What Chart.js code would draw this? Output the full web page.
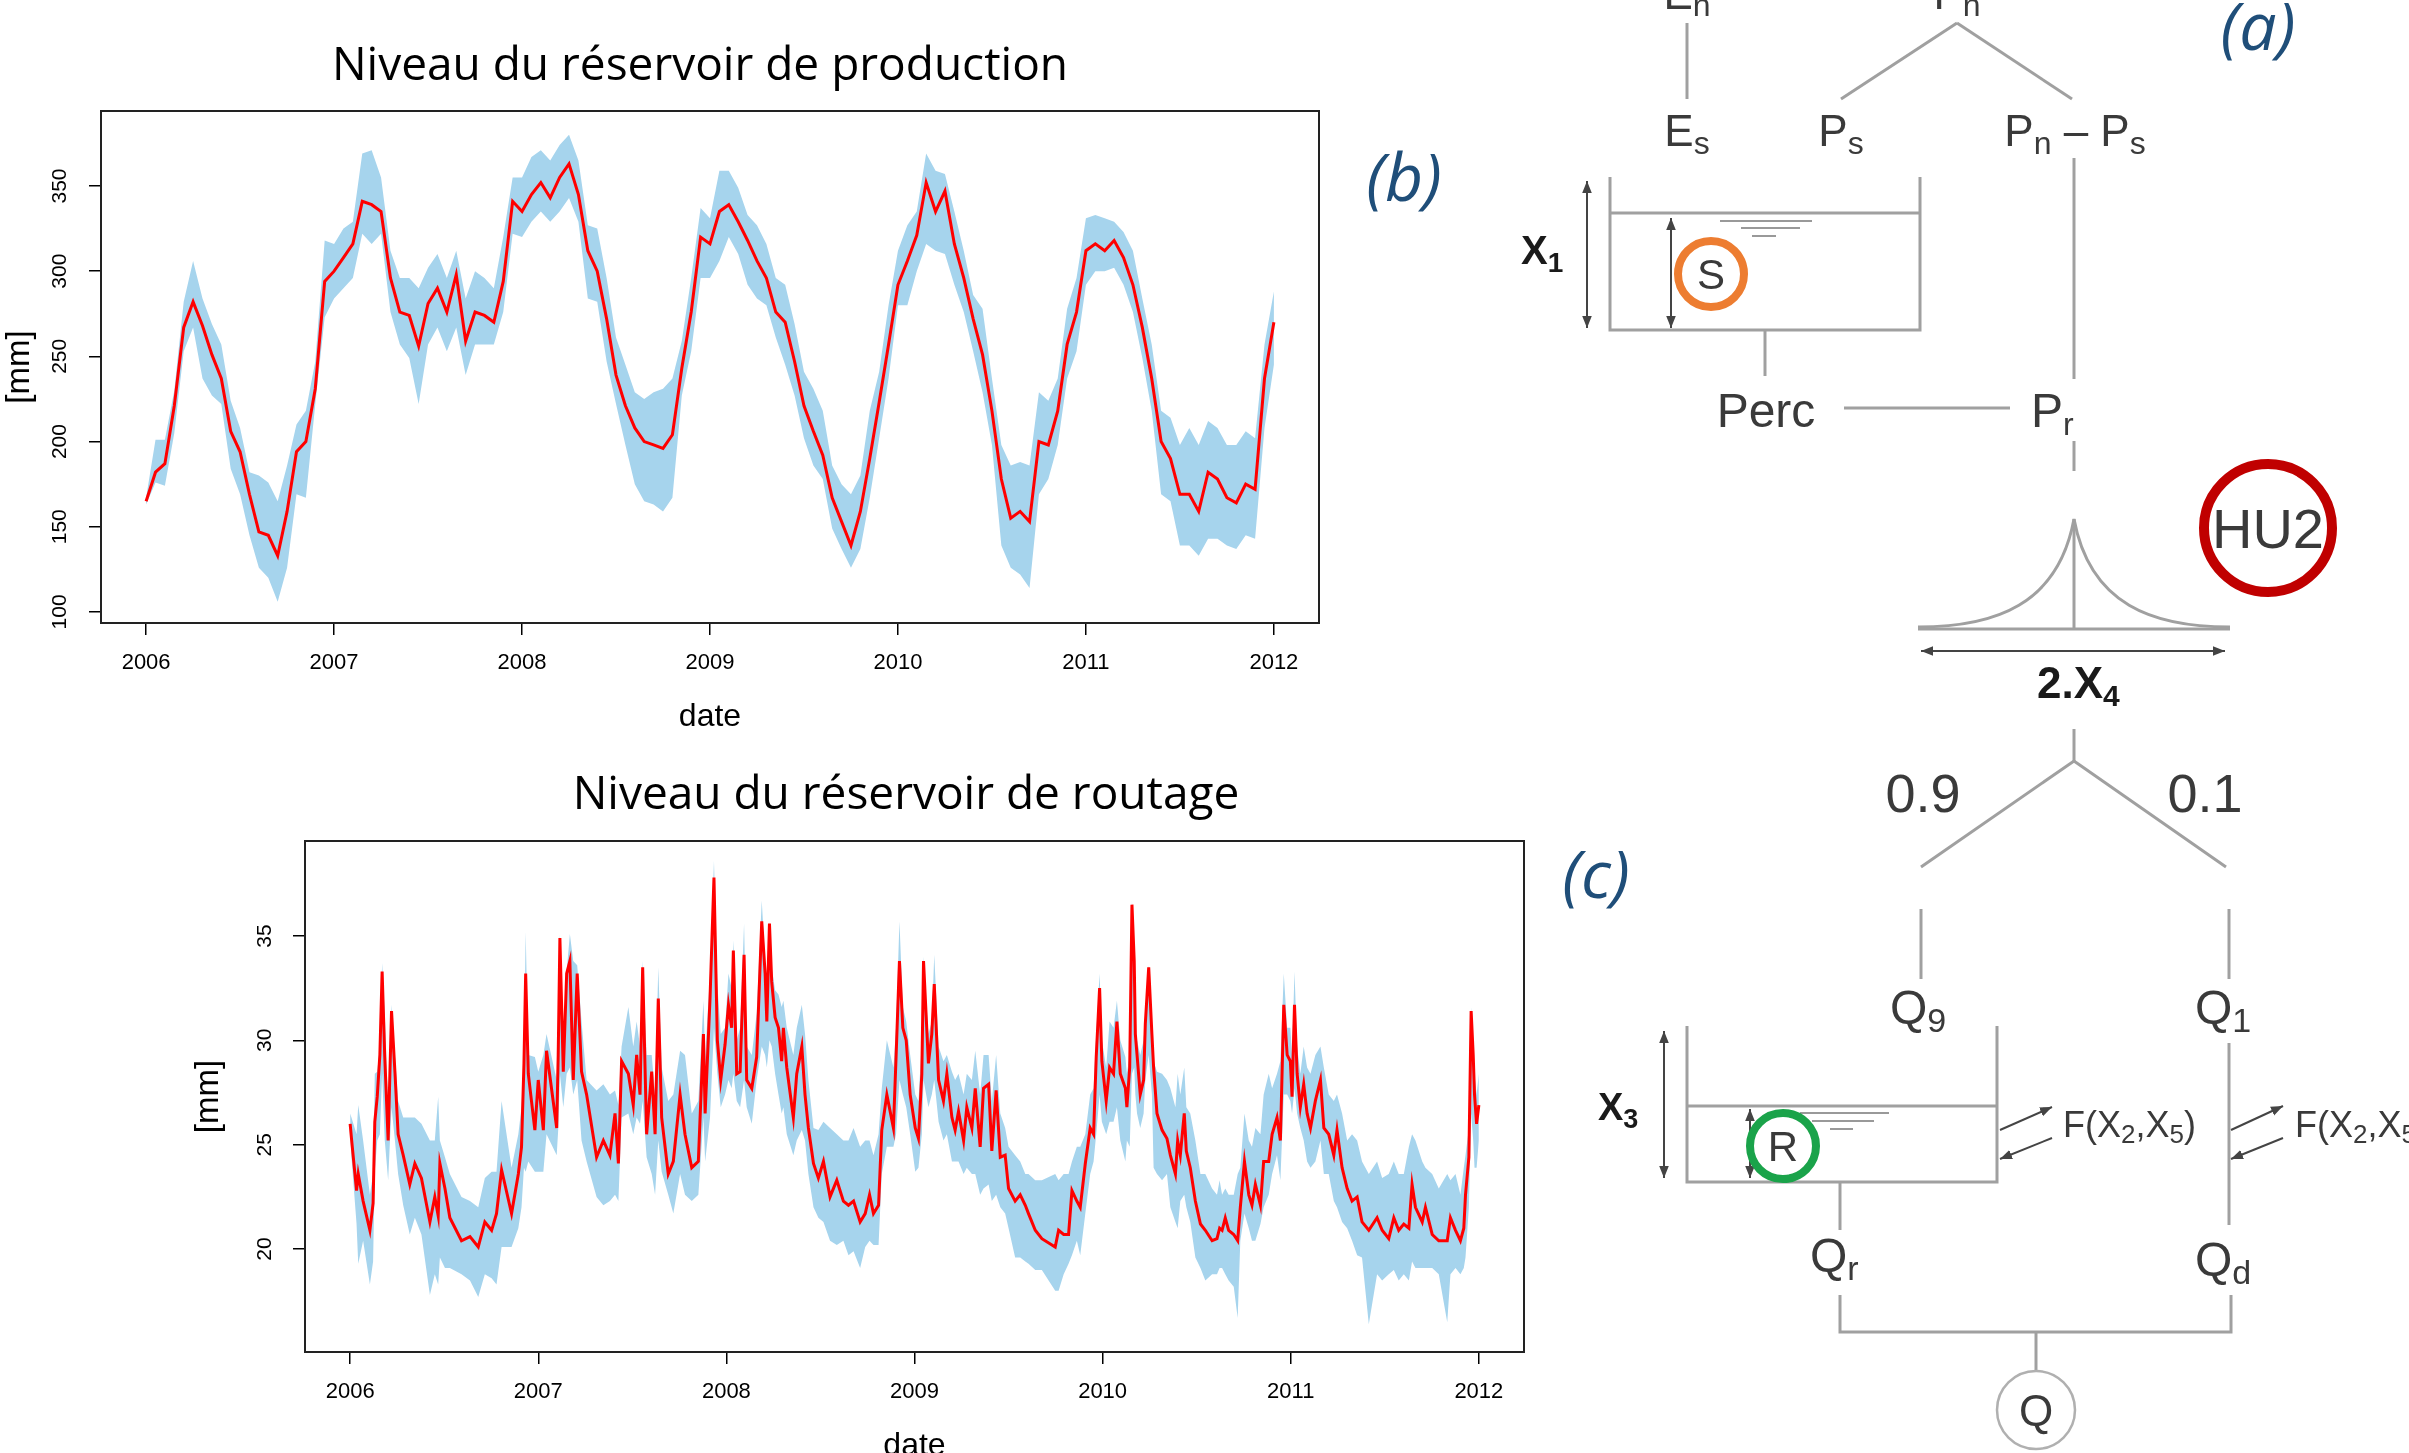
<!DOCTYPE html>
<html>
<head>
<meta charset="utf-8">
<title>GR4J - niveaux des reservoirs</title>
<script src="https://cdn.jsdelivr.net/npm/chart.js@4.4.0/dist/chart.umd.min.js"></script>
<style>
  html, body { margin: 0; padding: 0; background: #fff; width: 2409px; height: 1453px; overflow: hidden; }
  canvas, svg { position: absolute; }
</style>
</head>
<body>
<canvas id="chart_production" width="1400" height="745" style="left:0;top:0"></canvas>
<canvas id="chart_routage" width="1452" height="740" style="left:180px;top:740px"></canvas>

<svg id="schema" width="2409" height="1453" viewBox="0 0 2409 1453" style="left:0;top:0" font-family="Liberation Sans, Arial, sans-serif">
  <defs>
    <marker id="arr" viewBox="0 0 10 10" refX="10" refY="5" markerWidth="6" markerHeight="6" orient="auto-start-reverse">
      <path d="M0,1 L10,5 L0,9 z" fill="#444"></path>
    </marker>
  </defs>
  <g stroke="#a0a0a0" stroke-width="3" fill="none">
    <line x1="1687" y1="23" x2="1687" y2="99"></line>
    <line x1="1957" y1="23" x2="1841" y2="99"></line>
    <line x1="1957" y1="23" x2="2072" y2="99"></line>
    <polyline points="1610,177 1610,330 1920,330 1920,177"></polyline>
    <line x1="1610" y1="213" x2="1920" y2="213"></line>
    <line x1="1765" y1="330" x2="1765" y2="376"></line>
    <line x1="1844" y1="408" x2="2010" y2="408"></line>
    <line x1="2074" y1="158" x2="2074" y2="379"></line>
    <line x1="2074" y1="441" x2="2074" y2="471"></line>
    <line x1="2074" y1="519" x2="2074" y2="628"></line>
    <path d="M1918,627 C1995,627 2058,605 2074,519 C2090,605 2153,627 2230,627"></path>
    <line x1="1918" y1="629" x2="2230" y2="629"></line>
    <line x1="2074" y1="729" x2="2074" y2="761"></line>
    <polyline points="1921,867 2074,761 2226,867"></polyline>
    <line x1="1921" y1="909" x2="1921" y2="979"></line>
    <line x1="2229" y1="909" x2="2229" y2="979"></line>
    <polyline points="1687,1026 1687,1182 1997,1182 1997,1026"></polyline>
    <line x1="1687" y1="1106" x2="1997" y2="1106"></line>
    <line x1="2229" y1="1043" x2="2229" y2="1225"></line>
    <line x1="1840" y1="1183" x2="1840" y2="1230"></line>
    <polyline points="1840,1295 1840,1332 2231,1332 2231,1295"></polyline>
    <line x1="2036" y1="1332" x2="2036" y2="1372"></line>
  </g>
  <g stroke="#999" stroke-width="2">
    <line x1="1720" y1="221" x2="1812" y2="221"></line>
    <line x1="1741" y1="228" x2="1800" y2="228"></line>
    <line x1="1752" y1="236" x2="1776" y2="236"></line>
    <line x1="1800" y1="1113" x2="1889" y2="1113"></line>
    <line x1="1812" y1="1121" x2="1874" y2="1121"></line>
    <line x1="1830" y1="1129" x2="1853" y2="1129"></line>
  </g>
  <g stroke="#444" stroke-width="2" fill="none">
    <line x1="1587" y1="181" x2="1587" y2="328" marker-start="url(#arr)" marker-end="url(#arr)"></line>
    <line x1="1671" y1="218" x2="1671" y2="328" marker-start="url(#arr)" marker-end="url(#arr)"></line>
    <line x1="1921" y1="651" x2="2225" y2="651" marker-start="url(#arr)" marker-end="url(#arr)"></line>
    <line x1="1664" y1="1031" x2="1664" y2="1178" marker-start="url(#arr)" marker-end="url(#arr)"></line>
    <line x1="1750" y1="1109" x2="1750" y2="1178" marker-start="url(#arr)" marker-end="url(#arr)"></line>
    <line x1="2000" y1="1130" x2="2052" y2="1107" marker-end="url(#arr)"></line>
    <line x1="2052" y1="1138" x2="2000" y2="1159" marker-end="url(#arr)"></line>
    <line x1="2231" y1="1130" x2="2283" y2="1106" marker-end="url(#arr)"></line>
    <line x1="2283" y1="1138" x2="2231" y2="1159" marker-end="url(#arr)"></line>
  </g>
  <circle cx="1711" cy="274" r="33" fill="none" stroke="#ed7d31" stroke-width="8"></circle>
  <circle cx="2268" cy="528" r="64" fill="none" stroke="#c00000" stroke-width="10"></circle>
  <circle cx="1783" cy="1146" r="33" fill="none" stroke="#1aa34a" stroke-width="8"></circle>
  <circle cx="2036" cy="1410" r="39" fill="none" stroke="#b0b0b0" stroke-width="2.5"></circle>
  <g fill="#3a3a3a" font-size="44">
    <text x="1687" y="9" text-anchor="middle">E<tspan font-size="32" dy="7">n</tspan></text>
    <text x="1957" y="9" text-anchor="middle">P<tspan font-size="32" dy="7">n</tspan></text>
    <text x="1687" y="146" text-anchor="middle">E<tspan font-size="32" dy="8">s</tspan></text>
    <text x="1841" y="146" text-anchor="middle">P<tspan font-size="32" dy="8">s</tspan></text>
    <text x="2075" y="146" text-anchor="middle">P<tspan font-size="32" dy="8">n</tspan><tspan dy="-8"> – P</tspan><tspan font-size="32" dy="8">s</tspan></text>
    <text x="1711" y="289" text-anchor="middle" font-size="42">S</text>
    <text x="1766" y="427" text-anchor="middle" font-size="48">Perc</text>
    <text x="2031" y="427" font-size="48">P<tspan font-size="32" dy="8">r</tspan></text>
    <text x="2268" y="548" text-anchor="middle" font-size="56">HU2</text>
    <text x="1923" y="812" text-anchor="middle" font-size="54">0.9</text>
    <text x="2205" y="812" text-anchor="middle" font-size="54">0.1</text>
    <text x="1890" y="1024" font-size="48">Q<tspan font-size="34" dy="8">9</tspan></text>
    <text x="2195" y="1024" font-size="48">Q<tspan font-size="34" dy="8">1</tspan></text>
    <text x="1783" y="1161" text-anchor="middle" font-size="42">R</text>
    <text x="2063" y="1137" font-size="36">F(X<tspan font-size="26" dy="6">2</tspan><tspan dy="-6">,X</tspan><tspan font-size="26" dy="6">5</tspan><tspan dy="-6">)</tspan></text>
    <text x="2295" y="1137" font-size="36">F(X<tspan font-size="26" dy="6">2</tspan><tspan dy="-6">,X</tspan><tspan font-size="26" dy="6">5</tspan><tspan dy="-6">)</tspan></text>
    <text x="1810" y="1272" font-size="48">Q<tspan font-size="34" dy="8">r</tspan></text>
    <text x="2195" y="1276" font-size="48">Q<tspan font-size="34" dy="8">d</tspan></text>
    <text x="2036" y="1426" text-anchor="middle" font-size="44">Q</text>
  </g>
  <g fill="#1a1a1a" font-weight="bold">
    <text x="1521" y="264" font-size="40">X<tspan font-size="28" dy="8">1</tspan></text>
    <text x="2037" y="698" font-size="44">2.X<tspan font-size="30" dy="8">4</tspan></text>
    <text x="1598" y="1120" font-size="38">X<tspan font-size="27" dy="8">3</tspan></text>
  </g>
  <g fill="#1f4e79" font-family="Open Sans, sans-serif" font-style="italic" font-size="66" text-anchor="middle">
    <text x="2258" y="50">(a)</text>
    <text x="1404" y="201">(b)</text>
    <text x="1596" y="898">(c)</text>
  </g>
</svg>

<script>
var yearTicks = [2006, 2007, 2008, 2009, 2010, 2011, 2012];
var prodTicks = [100, 150, 200, 250, 300, 350];
var routTicks = [20, 25, 30, 35];

// niveau du reservoir de production, one value every 0.05 year
var prodMed = [
  165, 182, 187, 221, 267, 282, 268, 251, 237, 206, 194, 169, 147, 145, 133, 159, 194, 200, 231, 294,
  300, 308, 316, 341, 339, 335, 296, 276, 274, 256, 281, 290, 276, 298, 259, 276, 274, 270, 294, 341,
  335, 345, 352, 343, 355, 363, 345, 312, 300, 272, 239, 221, 208, 200, 198, 196, 204, 243, 276, 320,
  316, 335, 339, 329, 318, 306, 296, 276, 270, 247, 221, 206, 192, 167, 153, 139, 159, 190, 223, 257,
  292, 306, 321, 352, 335, 347, 316, 296, 272, 251, 218, 178, 155, 159, 153, 200, 198, 218, 257, 276,
  312, 316, 312, 318, 308, 292, 267, 237, 200, 190, 169, 169, 159, 182, 178, 167, 164, 175, 172, 237,
  270
];
var prodHigh = [
  167, 201, 201, 230, 282, 306, 284, 269, 257, 224, 208, 182, 180, 176, 165, 186, 210, 218, 247, 318,
  316, 325, 329, 369, 371, 355, 312, 296, 296, 290, 302, 310, 296, 312, 284, 300, 296, 290, 320, 355,
  355, 367, 371, 365, 374, 380, 365, 327, 325, 296, 261, 245, 229, 225, 229, 231, 237, 259, 296, 337,
  331, 359, 359, 349, 333, 327, 316, 296, 292, 269, 241, 231, 218, 186, 175, 169, 180, 218, 241, 280,
  312, 327, 335, 369, 359, 357, 335, 312, 286, 278, 237, 198, 186, 188, 186, 229, 224, 237, 278, 296,
  331, 333, 331, 329, 323, 312, 284, 257, 218, 214, 198, 208, 198, 212, 208, 198, 198, 206, 202, 257,
  288
];
var prodLow = [
  163, 176, 174, 205, 253, 267, 237, 227, 222, 184, 169, 145, 126, 120, 106, 126, 169, 167, 222, 273,
  284, 290, 296, 322, 316, 322, 276, 257, 249, 222, 257, 267, 253, 267, 239, 257, 257, 257, 276, 322,
  320, 329, 335, 329, 335, 343, 329, 284, 282, 247, 222, 198, 175, 165, 163, 159, 167, 227, 253, 296,
  296, 306, 320, 310, 292, 284, 280, 261, 245, 227, 202, 186, 178, 149, 137, 126, 137, 167, 202, 237,
  280, 280, 300, 316, 312, 310, 292, 276, 253, 229, 198, 139, 126, 122, 114, 169, 178, 198, 237, 253,
  292, 300, 300, 302, 292, 276, 249, 218, 169, 165, 139, 139, 133, 143, 143, 139, 137, 145, 143, 208,
  245
];
var prodTime = prodMed.map(function (v, i) { return 2006 + i / 20; });

// niveau du reservoir de routage, read at the turning points of the median
var routTime = [
  2006.000, 2006.007, 2006.034, 2006.043, 2006.069, 2006.105, 2006.122, 2006.131, 2006.144, 2006.158,
  2006.170, 2006.184, 2006.202, 2006.220, 2006.238, 2006.255, 2006.282, 2006.317, 2006.344, 2006.379,
  2006.424, 2006.450, 2006.468, 2006.477, 2006.504, 2006.530, 2006.592, 2006.637, 2006.681, 2006.716,
  2006.752, 2006.778, 2006.805, 2006.858, 2006.894, 2006.911, 2006.924, 2006.933, 2006.947, 2006.982,
  2007.000, 2007.027, 2007.044, 2007.098, 2007.106, 2007.115, 2007.133, 2007.151, 2007.168, 2007.186,
  2007.207, 2007.230, 2007.257, 2007.310, 2007.346, 2007.381, 2007.408, 2007.426, 2007.443, 2007.479,
  2007.505, 2007.523, 2007.541, 2007.555, 2007.576, 2007.603, 2007.621, 2007.638, 2007.656, 2007.691,
  2007.718, 2007.754, 2007.780, 2007.816, 2007.851, 2007.878, 2007.887, 2007.913, 2007.934,
  2007.952, 2007.970, 2007.993, 2008.011, 2008.028, 2008.037, 2008.055, 2008.073, 2008.094, 2008.108,
  2008.135, 2008.161, 2008.188, 2008.206, 2008.215, 2008.229, 2008.241, 2008.259, 2008.277, 2008.294,
  2008.303, 2008.321, 2008.356, 2008.374, 2008.401, 2008.418, 2008.436, 2008.463, 2008.489, 2008.516,
  2008.551, 2008.587, 2008.622, 2008.649, 2008.676, 2008.711, 2008.738, 2008.761, 2008.782, 2008.809,
  2008.826, 2008.853, 2008.888, 2008.902, 2008.920, 2008.938, 2008.956, 2008.977, 2009.004, 2009.021,
  2009.039, 2009.048, 2009.074, 2009.092, 2009.105, 2009.128, 2009.154, 2009.172, 2009.199, 2009.216,
  2009.234, 2009.261, 2009.278, 2009.305, 2009.323, 2009.349, 2009.367, 2009.394, 2009.411, 2009.434,
  2009.456, 2009.482, 2009.500, 2009.535, 2009.562, 2009.589, 2009.606, 2009.642, 2009.677, 2009.748,
  2009.766, 2009.793, 2009.819, 2009.837, 2009.863, 2009.881, 2009.908, 2009.934, 2009.952, 2009.966,
  2009.984, 2009.996, 2010.019, 2010.037, 2010.058, 2010.076,
  2010.094, 2010.121, 2010.129, 2010.144, 2010.156, 2010.168, 2010.174, 2010.183, 2010.200, 2010.218,
  2010.227, 2010.245, 2010.262, 2010.271, 2010.289, 2010.316, 2010.342, 2010.360, 2010.387, 2010.399,
  2010.413, 2010.434, 2010.445, 2010.466, 2010.493, 2010.520, 2010.546, 2010.582, 2010.608, 2010.622,
  2010.635, 2010.652, 2010.670, 2010.697, 2010.718, 2010.732, 2010.754, 2010.777, 2010.794, 2010.812,
  2010.839, 2010.856, 2010.883, 2010.901, 2010.927, 2010.945, 2010.963, 2010.981, 2010.998, 2011.007,
  2011.020, 2011.034, 2011.051, 2011.069, 2011.087, 2011.105, 2011.131, 2011.158, 2011.176, 2011.202,
  2011.229, 2011.246, 2011.273, 2011.300, 2011.326, 2011.353, 2011.379, 2011.415, 2011.459, 2011.486,
  2011.521, 2011.548, 2011.574, 2011.601, 2011.628, 2011.645, 2011.663, 2011.699, 2011.716, 2011.752,
  2011.787, 2011.832, 2011.849, 2011.876, 2011.902, 2011.920, 2011.929, 2011.947, 2011.959, 2011.970,
  2011.977, 2011.988, 2012.000
];
var routMed = [
  26.0, 25.3, 22.8, 23.6, 22.3, 20.9, 22.2, 26.1, 27.3, 29.3,
  33.3, 29.2, 25.2, 31.4, 28.5, 25.5, 24.5, 23.1, 24.1, 23.4,
  21.3, 22.5, 21.6, 24.1, 22.9, 21.5, 20.4, 20.6, 20.1, 21.3,
  20.9, 21.7, 23.8, 21.7, 23.6, 24.9, 28.9, 33.2, 28.4, 25.7,
  28.1, 25.7, 29.5, 25.8, 29.3, 34.9, 28.5, 33.2, 33.8, 28.1,
  33.2, 28.5, 27.4, 24.4, 25.2, 24.5, 26.5, 24.1, 29.0, 28.4,
  26.9, 29.3, 27.4, 33.5, 25.5, 28.5, 25.5, 32.0, 26.3, 23.6,
  24.2, 27.4, 25.5, 23.9, 24.2, 30.3, 26.5, 32.0, 37.8,
  30.0, 28.1, 29.8, 31.7, 30.6, 34.3, 28.4, 28.5, 34.1, 28.1,
  27.7, 29.2, 35.7, 33.2, 30.9, 35.6, 32.8, 31.1, 30.6, 29.0,
  30.6, 28.7, 26.3, 28.4, 29.7, 27.4, 25.8, 24.1, 23.4, 24.2,
  22.5, 23.3, 22.3, 22.1, 22.3, 21.3, 21.7, 22.6, 21.7, 22.1,
  25.7, 27.4, 25.8, 29.2, 33.8, 30.6, 30.0, 27.4, 25.8, 25.3,
  28.4, 33.8, 28.9, 30.3, 32.7, 28.1, 27.1, 28.4, 26.3, 25.7,
  26.6, 25.2, 26.8, 25.8, 27.7, 24.9, 27.7, 27.9, 24.7, 27.6,
  24.4, 24.5, 22.9, 22.3, 22.6, 22.1, 21.7, 20.9, 20.5, 20.1,
  20.9, 20.7, 20.7, 22.8, 22.3, 22.0, 24.1, 25.8, 25.5, 29.2,
  32.5, 29.0, 27.1, 28.7, 28.4, 30.9,
  28.4, 27.7, 26.8, 28.7, 36.5, 33.8, 30.3, 29.3, 27.4, 28.1,
  30.8, 33.5, 30.3, 28.7, 26.5, 25.7, 25.3, 24.5, 23.6, 25.2,
  24.5, 26.5, 24.7, 23.9, 22.3, 21.2, 20.9, 20.4, 20.5, 21.0,
  20.9, 21.5, 20.9, 20.7, 20.4, 22.0, 24.2, 22.6, 22.1, 23.1,
  22.1, 24.2, 24.2, 25.5, 26.3, 25.2, 31.7, 29.3, 29.0, 27.3,
  31.7, 28.4, 26.8, 27.9, 26.5, 25.8, 27.1, 28.1, 25.8, 25.5,
  24.5, 25.7, 23.9, 22.9, 22.3, 22.5, 21.3, 20.9, 21.5, 20.9,
  20.5, 21.5, 20.9, 21.2, 21.0, 23.1, 22.0, 21.3, 22.0, 20.7,
  20.4, 20.4, 21.5, 20.9, 20.4, 21.0, 22.6, 24.4, 31.4, 29.3,
  27.4, 26.0, 26.9
];
var routHigh = [
  26.5, 26.3, 25.5, 26.9, 25.2, 22.6, 23.6, 28.4, 28.5, 29.7,
  33.7, 31.3, 26.8, 31.7, 29.3, 27.1, 26.3, 26.3, 26.3, 26.0,
  25.2, 25.2, 27.3, 25.2, 24.4, 23.6, 22.5, 22.3, 22.0, 23.4,
  23.7, 23.7, 27.1, 23.9, 25.5, 26.8, 29.3, 35.2, 29.3, 29.2,
  28.5, 29.3, 30.3, 28.1, 30.6, 35.1, 29.5, 33.3, 35.1, 33.8,
  33.6, 30.9, 28.1, 27.6, 27.9, 27.4, 27.6, 26.9, 29.7, 31.6,
  29.7, 30.9, 29.7, 33.8, 29.3, 29.3, 27.4, 33.5, 28.7, 27.1,
  27.4, 29.5, 29.3, 26.5, 27.1, 31.9, 29.2, 33.2, 38.6,
  32.7, 30.3, 30.6, 33.2, 32.5, 34.8, 30.0, 30.6, 35.6, 29.7,
  29.3, 31.3, 36.7, 33.8, 31.6, 35.7, 33.5, 32.4, 32.2, 31.6,
  31.9, 30.6, 29.3, 30.6, 31.7, 30.3, 28.1, 25.8, 25.7, 26.1,
  25.8, 25.5, 25.2, 25.2, 25.8, 24.9, 25.2, 25.2, 24.5, 25.5,
  27.7, 30.0, 28.7, 30.6, 35.7, 31.6, 30.9, 29.3, 27.4, 27.1,
  30.0, 34.0, 30.3, 30.9, 34.1, 29.7, 29.0, 29.3, 28.5, 28.1,
  28.4, 27.4, 28.4, 28.1, 29.5, 27.4, 29.3, 29.3, 27.1, 29.3,
  26.5, 25.8, 24.9, 24.5, 24.2, 23.6, 23.6, 23.3, 23.3, 23.6,
  23.3, 23.6, 23.6, 24.2, 24.9, 24.9, 25.5, 27.4, 27.7, 30.3,
  33.2, 30.0, 28.7, 30.9, 30.6, 31.9,
  30.0, 29.2, 28.4, 29.3, 36.7, 34.1, 30.6, 30.0, 29.3, 30.0,
  31.3, 33.6, 30.6, 29.0, 28.5, 28.4, 28.1, 27.7, 26.8, 28.4,
  27.4, 28.7, 26.8, 26.5, 25.2, 23.6, 23.6, 22.9, 22.6, 23.3,
  22.6, 22.9, 22.6, 22.6, 23.6, 23.9, 26.5, 25.2, 24.9, 25.8,
  25.5, 27.4, 28.4, 27.7, 28.4, 29.0, 33.2, 30.6, 30.6, 29.3,
  33.3, 29.7, 28.4, 29.7, 28.7, 28.4, 29.3, 29.7, 28.7, 27.4,
  27.1, 27.4, 26.5, 25.2, 25.5, 25.2, 24.2, 23.6, 24.2, 23.4,
  23.6, 24.2, 23.6, 23.6, 24.9, 25.5, 25.2, 24.2, 23.9, 23.6,
  22.9, 23.6, 23.3, 23.6, 22.6, 23.9, 24.5, 25.8, 31.6, 29.7,
  28.4, 27.4, 28.4
];
var routLow = [
  25.5, 24.4, 21.2, 19.3, 20.4, 18.3, 19.4, 23.7, 25.2, 25.5,
  28.4, 25.2, 23.3, 26.8, 25.2, 23.6, 22.1, 20.7, 21.5, 20.7,
  17.8, 18.8, 18.3, 19.6, 19.1, 19.1, 18.8, 18.5, 17.7, 18.8,
  18.6, 18.3, 20.1, 20.1, 21.0, 22.0, 23.9, 23.7, 24.2, 23.7,
  23.7, 23.7, 25.5, 24.5, 25.7, 28.4, 26.8, 28.4, 28.7, 27.4,
  28.1, 25.2, 24.2, 22.5, 22.1, 22.3, 22.6, 22.3, 26.3, 26.5,
  25.5, 26.3, 26.0, 27.1, 24.4, 23.6, 22.6, 25.2, 23.7, 22.6,
  21.7, 23.6, 22.6, 22.3, 22.6, 26.3, 24.2, 26.3, 30.6,
  28.4, 26.8, 27.4, 28.1, 27.7, 28.4, 27.1, 26.8, 28.1, 26.8,
  26.0, 28.1, 29.7, 29.3, 28.7, 30.0, 29.7, 28.4, 27.4, 26.5,
  26.8, 25.5, 24.5, 25.2, 25.7, 25.2, 23.6, 22.0, 21.5, 21.3,
  20.4, 20.2, 20.4, 19.7, 19.9, 19.1, 20.1, 20.4, 20.2, 20.2,
  23.6, 24.9, 24.9, 25.5, 28.1, 27.4, 26.8, 25.5, 23.7, 23.9,
  25.5, 28.1, 26.8, 27.4, 28.1, 26.1, 25.2, 25.5, 24.2, 24.2,
  24.2, 23.6, 23.9, 23.6, 23.6, 22.6, 22.9, 23.1, 22.3, 22.6,
  22.0, 21.7, 21.0, 19.6, 19.6, 19.4, 19.3, 19.0, 19.0, 18.0,
  18.0, 18.8, 19.3, 19.7, 20.4, 19.7, 21.7, 23.6, 24.2, 25.5,
  27.4, 26.1, 25.5, 26.1, 26.1, 26.8,
  25.2, 24.2, 25.2, 24.9, 28.4, 28.7, 27.4, 26.5, 25.8, 26.5,
  28.1, 29.3, 27.4, 23.9, 23.6, 23.3, 23.6, 22.0, 21.3, 21.0,
  22.3, 22.6, 22.0, 21.3, 19.6, 19.1, 18.5, 18.8, 18.8, 19.1,
  19.1, 18.8, 18.5, 18.2, 16.7, 20.4, 21.7, 21.0, 20.4, 20.4,
  21.2, 22.0, 22.6, 23.6, 24.5, 23.3, 27.4, 27.4, 27.1, 26.5,
  27.7, 26.5, 25.8, 25.2, 24.2, 23.9, 24.2, 25.2, 23.6, 23.6,
  22.3, 22.0, 21.3, 21.0, 20.4, 19.7, 19.6, 16.4, 18.8, 18.5,
  18.8, 19.0, 18.5, 18.8, 18.5, 19.4, 19.1, 19.1, 19.1, 19.1,
  18.8, 16.5, 18.8, 19.1, 18.8, 19.1, 19.6, 22.0, 26.5, 25.2,
  23.9, 23.9, 25.2
];

function toPoints(xs, ys) {
  return xs.map(function (x, i) { return { x: x, y: ys[i] }; });
}

// R style box around the plotting region
var plotBox = {
  id: 'plotBox',
  afterDraw: function (chart) {
    var a = chart.chartArea;
    var ctx = chart.ctx;
    ctx.save();
    ctx.strokeStyle = '#222';
    ctx.lineWidth = 2;
    ctx.strokeRect(a.left, a.top, a.right - a.left, a.bottom - a.top);
    ctx.restore();
  }
};

function drawLevel(canvasId, title, time, med, high, low, yMin, yMax, yTicks, lay) {
  return new Chart(document.getElementById(canvasId), {
    type: 'line',
    data: {
      datasets: [
        { label: 'mediane', data: toPoints(time, med), borderColor: '#ff0000', borderWidth: 3, pointRadius: 0, fill: false },
        { label: 'max', data: toPoints(time, high), borderWidth: 0, pointRadius: 0, backgroundColor: '#a6d4ed', fill: '+1' },
        { label: 'min', data: toPoints(time, low), borderWidth: 0, pointRadius: 0, fill: false }
      ]
    },
    options: {
      responsive: false,
      animation: false,
      devicePixelRatio: 1,
      layout: { padding: 0 },
      plugins: {
        legend: { display: false },
        tooltip: { enabled: false },
        title: {
          display: true,
          text: title,
          color: '#000',
          font: { family: 'Open Sans', size: 46, weight: 'normal', lineHeight: 1.2 },
          padding: { top: lay.titleTop, bottom: lay.titleBottom }
        }
      },
      scales: {
        x: {
          type: 'linear',
          min: 2005.76,
          max: 2012.24,
          afterBuildTicks: function (s) { s.ticks = yearTicks.map(function (v) { return { value: v }; }); },
          afterFit: function (s) { s.height = lay.xHeight; },
          grid: { drawOnChartArea: false, drawTicks: true, tickLength: 12, color: '#000', lineWidth: 1.5 },
          border: { display: false },
          ticks: {
            color: '#000', padding: 15, maxRotation: 0, autoSkip: false,
            font: { family: 'Liberation Sans', size: 22, lineHeight: 1.2 },
            callback: function (v) { return String(v); }
          },
          title: {
            display: true, text: 'date', color: '#000',
            font: { family: 'Liberation Sans', size: 32, lineHeight: 1.2 },
            padding: { top: 0, bottom: lay.xTitlePad }
          }
        },
        y: {
          min: yMin,
          max: yMax,
          afterBuildTicks: function (s) { s.ticks = yTicks.map(function (v) { return { value: v }; }); },
          afterFit: function (s) { s.width = lay.yWidth; },
          grid: { drawOnChartArea: false, drawTicks: true, tickLength: 12, color: '#000', lineWidth: 1.5 },
          border: { display: false },
          ticks: {
            color: '#000', padding: lay.yTickPad, minRotation: 90, maxRotation: 90, crossAlign: 'center', autoSkip: false,
            font: { family: 'Liberation Sans', size: 21, lineHeight: 1.2 },
            callback: function (v) { return String(v); }
          },
          title: {
            display: true, text: '[mm]', color: '#000',
            font: { family: 'Liberation Sans', size: 33, lineHeight: 1.2 },
            padding: { top: lay.yTitlePad, bottom: 0 }
          }
        },
        // empty margin on the right so the title stays centred on the canvas
        yRight: {
          position: 'right',
          afterFit: function (s) { s.width = lay.right; },
          grid: { display: false },
          border: { display: false },
          ticks: { display: false }
        }
      }
    },
    plugins: [plotBox]
  });
}

drawLevel('chart_production', 'Niveau du réservoir de production',
  prodTime, prodMed, prodHigh, prodLow, 93.5, 394, prodTicks,
  { right: 81, titleTop: 39.4, titleBottom: 16.4, xHeight: 122, xTitlePad: 8.8, yWidth: 101, yTickPad: 11.5, yTitlePad: 0 });

drawLevel('chart_routage', 'Niveau du réservoir de routage',
  routTime, routMed, routHigh, routLow, 15.07, 39.55, routTicks,
  { right: 108, titleTop: 28.4, titleBottom: 17.4, xHeight: 128, xTitlePad: 14.8, yWidth: 125, yTickPad: 16, yTitlePad: 9.2 });
</script>
</body>
</html>
